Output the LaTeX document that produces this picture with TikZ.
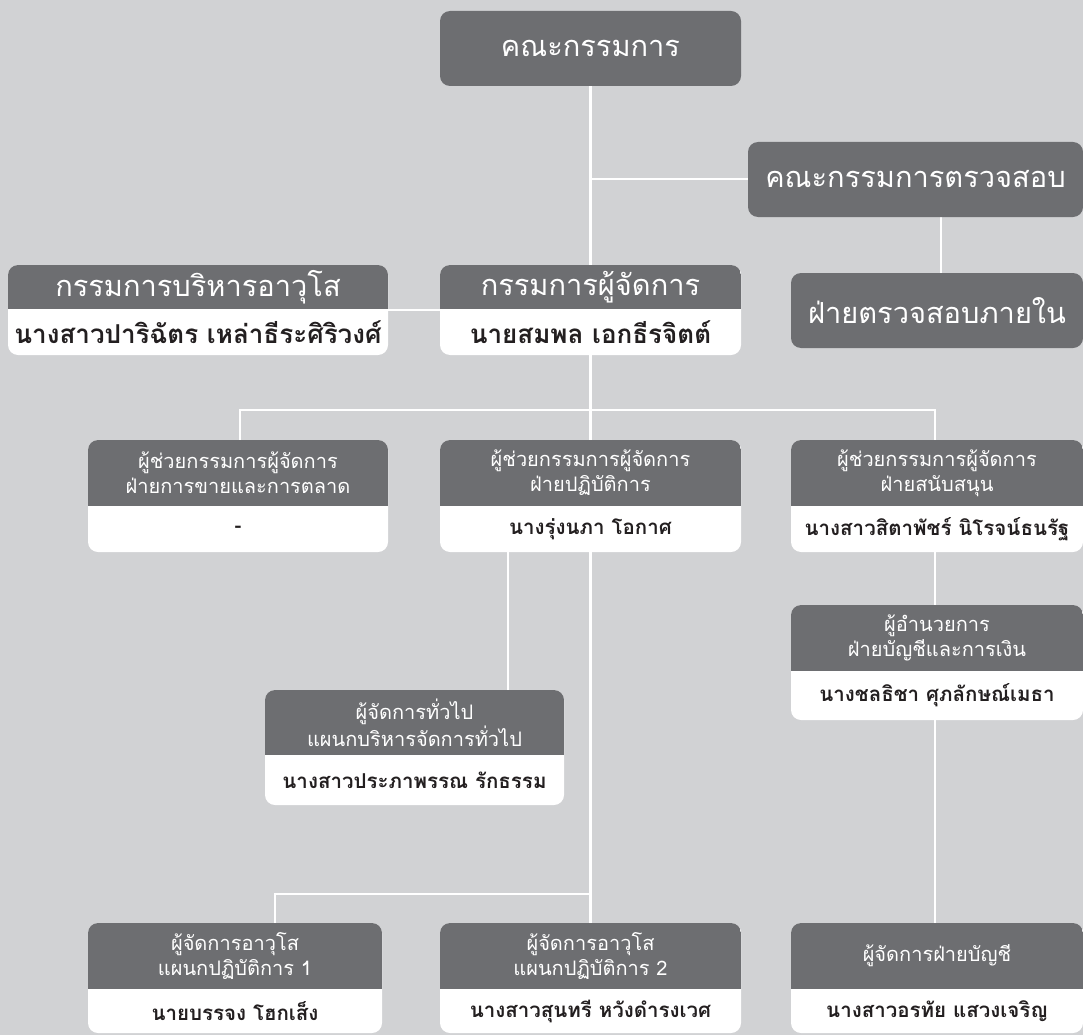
\documentclass[tikz,border=0pt]{standalone}
\usepackage{fontspec}
\newfontfamily\thai[Script=Thai]{Loma}
\usetikzlibrary{calc}
\definecolor{bg}{HTML}{D1D2D4}
\definecolor{hdr}{HTML}{6D6E71}
\definecolor{ink}{HTML}{231F20}
\newcommand\obox[8]{%
  \node[boxw, minimum width={#4-#2}, minimum height={#6-#3}] (#1) at ({(#2+#4)/2},{(#3+#6)/2}) {};
  \begin{scope}
    \clip[rounded corners=10pt] (#2,#3) rectangle (#4,#6);
    \fill[hdr] (#2,#3) rectangle (#4,#5);
  \end{scope}
  \node[hdrtxt] (#1-h) at ({(#2+#4)/2},{(#3+#5)/2}) {#7};
  \node[bodytxt] (#1-b) at ({(#2+#4)/2},{(#5+#6)/2}) {#8};
}
\newcommand\dbox[6]{%
  \node[boxd, minimum width={#4-#2}, minimum height={#5-#3}] (#1) at ({(#2+#4)/2},{(#3+#5)/2}) {};
  \node[hdrtxt] (#1-h) at (#1.center) {#6};
}
\begin{document}
\begin{tikzpicture}[x=1pt,y=-1pt,
  conn/.style={draw=white, line width=2.5pt},
  boxw/.style={rectangle, rounded corners=10pt, fill=white, inner sep=0pt},
  boxd/.style={rectangle, rounded corners=10pt, fill=hdr, inner sep=0pt},
  bighdr/.style={font=\thai\fontsize{29}{33}\selectfont},
  bigbody/.style={font=\thai\bfseries\fontsize{26}{30}\selectfont},
  smallhdr/.style={font=\thai\fontsize{20}{25}\selectfont},
  smallbody/.style={font=\thai\bfseries\fontsize{20.5}{24}\selectfont},
  hdrtxt/.style={text=white, align=center, inner sep=0pt, bighdr},
  bodytxt/.style={text=ink, align=center, inner sep=0pt, bigbody}]
\fill[bg] (0,0) rectangle (1083,1035);
\useasboundingbox (0,0) rectangle (1083,1035);

% connectors (drawn first, boxes on top)
\draw[conn] (590.5,86) -- (590.5,265);
\draw[conn] (590.5,179) -- (748,179);
\draw[conn] (941,217) -- (941,273);
\draw[conn] (388,310) -- (440,310);
\draw[conn] (590.5,355) -- (590.5,440);
\draw[conn] (240,440) -- (240,410) -- (935,410) -- (935,440);
\draw[conn] (508,552) -- (508,690);
\draw[conn] (590.5,552) -- (590.5,923);
\draw[conn] (590.5,894) -- (275,894) -- (275,923);
\draw[conn] (935,552) -- (935,605);
\draw[conn] (935,720) -- (935,923);

% top level
\dbox{board}{440}{11}{741}{86}{คณะกรรมการ}
\dbox{audit}{748}{142}{1083}{217}{คณะกรรมการตรวจสอบ}
\dbox{iaudit}{791}{273}{1083}{348}{ฝ่ายตรวจสอบภายใน}

\obox{exec}{8}{265}{388}{309}{355}{กรรมการบริหารอาวุโส}{นางสาวปาริฉัตร เหล่าธีระศิริวงศ์}
\obox{md}{440}{265}{741}{309}{355}{กรรมการผู้จัดการ}{นายสมพล เอกธีรจิตต์}

\begin{scope}[hdrtxt/.append style={smallhdr}, bodytxt/.append style={smallbody}]
\obox{sales}{88}{440}{388}{506}{552}{ผู้ช่วยกรรมการผู้จัดการ\\ฝ่ายการขายและการตลาด}{-}
\obox{ops}{440}{440}{741}{506}{552}{ผู้ช่วยกรรมการผู้จัดการ\\ฝ่ายปฏิบัติการ}{นางรุ่งนภา โอกาศ}
\obox{supp}{791}{440}{1083}{506}{552}{ผู้ช่วยกรรมการผู้จัดการ\\ฝ่ายสนับสนุน}{นางสาวสิตาพัชร์ นิโรจน์ธนรัฐ}
\obox{fin}{791}{605}{1083}{671}{720}{ผู้อำนวยการ\\ฝ่ายบัญชีและการเงิน}{นางชลธิชา ศุภลักษณ์เมธา}
\obox{gm}{265}{690}{564}{755}{805}{ผู้จัดการทั่วไป\\แผนกบริหารจัดการทั่วไป}{นางสาวประภาพรรณ รักธรรม}
\obox{op1}{88}{923}{382}{989}{1033}{ผู้จัดการอาวุโส\\แผนกปฏิบัติการ 1}{นายบรรจง โฮกเส็ง}
\obox{op2}{440}{923}{741}{989}{1033}{ผู้จัดการอาวุโส\\แผนกปฏิบัติการ 2}{นางสาวสุนทรี หวังดำรงเวศ}
\obox{acc}{791}{923}{1083}{989}{1033}{ผู้จัดการฝ่ายบัญชี}{นางสาวอรทัย แสวงเจริญ}
\end{scope}
\end{tikzpicture}
\end{document}
